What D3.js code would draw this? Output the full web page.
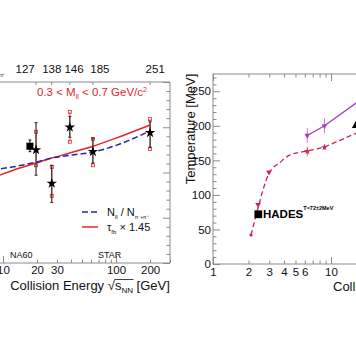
<!DOCTYPE html>
<html><head><meta charset="utf-8">
<script src="https://cdn.jsdelivr.net/npm/d3@7"></script>
<style>body{margin:0;background:#fff} svg{display:block} text{font-family:"Liberation Sans",Arial,Helvetica,sans-serif}</style>
</head><body><svg id="c" width="356" height="364"></svg>
<script>
// ---------- Left panel data ----------
const starEnergy   = [19.6, 27, 39, 62.4, 200];
const starValue    = [12.5, 8.8, 15.0, 12.3, 14.4];
const starStatLo   = [9.7, 6.7, 13.9, 11.05, 12.8];
const starStatHi   = [15.5, 10.8, 16.2, 13.8, 15.6];
const starSysLo    = [10.8, 7.4, 13.4, 10.8, 12.6];
const starSysHi    = [14.5, 10.6, 16.7, 13.7, 15.9];
const na60Energy   = [17.3];
const na60Value    = [12.9];
const na60StatLo   = [12.3];
const na60StatHi   = [13.6];
const lineEnergy   = [8, 12, 19.6, 27, 39, 62.4, 100, 200];
const tauLine      = [9.4, 10.2, 11.05, 11.6, 12.15, 12.9, 13.8, 15.25];
const yieldLine    = [10.3, 10.6, 11.15, 11.6, 11.9, 12.25, 13.0, 14.6];
const leftXTicks   = [10,20,30,40,50,60,70,80,90,100,200,300];
const leftXLabels  = [10,20,30,100,200];
const leftXMajor   = [10,100];
const topLabels    = ["127","138","146","185","251"];
const topLabelPos  = [15.7, 27, 42.5, 72, 222];
const topTickPos   = [19.6, 27, 39, 62.4, 200];

// ---------- Right panel data ----------
const purpleEnergy = [6.3, 8.8, 17.3];
const purpleT      = [186, 200, 236];
const purpleErr    = [11, 11, null];
const redFitEnergy = [2.1, 2.41, 2.65, 2.98, 3.7, 4.49, 6.02, 8.55, 11.9, 16.3, 25];
const redFitT      = [42, 81, 107, 131, 147, 158, 163, 169, 179, 189, 200];
const redPtEnergy  = [6.3, 8.8];
const redPtT       = [163, 169];
const redPtErr     = [7, 4];
const arrowEnergy  = [2.41, 2.98];
const arrowT       = [86, 133];
const endEnergy    = [2.1];
const endT         = [42];
const hadesEnergy  = [2.42];
const hadesT       = [72];
const blackEnergy  = [16.5];
const blackT       = [201];
const rightYTicks  = [0,50,100,150,200,250];
const rightXTicks  = [1,2,3,4,5,6,7,8,9,10,20,30,40,50];
const rightXLabels = [1,2,3,4,5,6,10];
const rightXMajor  = [1,10];

const svg = d3.select("#c");
const gray = "#8a8a8a";
const red = "#e3262b", blue = "#222a9c";

// ====== LEFT PANEL ======
const xL = d3.scaleLog().domain([10,300]).range([3,170]);
const yL = d3.scaleLinear().domain([0,20]).range([263,82]);

svg.append("clipPath").attr("id","clipL").append("rect").attr("x",-50).attr("y",82).attr("width",220).attr("height",181);

// frame
svg.append("line").attr("x1",0).attr("x2",170).attr("y1",82).attr("y2",82).attr("stroke",gray);
svg.append("line").attr("x1",170).attr("x2",170).attr("y1",82).attr("y2",263).attr("stroke",gray);
svg.append("line").attr("x1",0).attr("x2",170).attr("y1",263).attr("y2",263).attr("stroke",gray);

const gxb = svg.append("g").attr("transform","translate(0,263)")
  .call(d3.axisBottom(xL).tickValues(leftXTicks).tickFormat(d=>leftXLabels.includes(d)?String(d):"")
  .tickSizeInner(-3.5).tickSizeOuter(0).tickPadding(3));
gxb.select(".domain").remove();
gxb.selectAll(".tick line").attr("stroke",gray).attr("y2",d=>leftXMajor.includes(d)?-7:-3.5);
gxb.selectAll("text").attr("font-size",11.5).attr("fill","#111").attr("font-family",null);

const gyr = svg.append("g").attr("transform","translate(170,0)")
  .call(d3.axisRight(yL).tickValues(d3.range(0,21,1)).tickFormat("").tickSizeInner(-3.5).tickSizeOuter(0));
gyr.select(".domain").remove();
gyr.selectAll(".tick line").attr("stroke",gray).attr("x2",d=>d%5===0?-7:-3.5);

// top ticks & labels
svg.append("g").selectAll("line").data(topTickPos).join("line")
  .attr("x1",d=>xL(d)).attr("x2",d=>xL(d)).attr("y1",82).attr("y2",85).attr("stroke",gray);
svg.append("g").selectAll("text").data(topLabels).join("text")
  .attr("x",(d,i)=>xL(topLabelPos[i])).attr("y",73).attr("text-anchor","middle")
  .attr("font-size",11.5).attr("fill","#111").text(d=>d);
svg.append("text").attr("x",0).attr("y",77).attr("font-size",5).attr("fill","#333").text("π⁺");

const gL = svg.append("g").attr("clip-path","url(#clipL)");
// lines
gL.append("path").datum(lineEnergy.map((e,i)=>[e,tauLine[i]]))
  .attr("d",d3.line().x(d=>xL(d[0])).y(d=>yL(d[1])).curve(d3.curveMonotoneX))
  .attr("fill","none").attr("stroke",red).attr("stroke-width",1.5);
gL.append("path").datum(lineEnergy.map((e,i)=>[e,yieldLine[i]]))
  .attr("d",d3.line().x(d=>xL(d[0])).y(d=>yL(d[1])).curve(d3.curveMonotoneX))
  .attr("fill","none").attr("stroke",blue).attr("stroke-width",1.5).attr("stroke-dasharray","6,3");

// systematic (red)
starEnergy.forEach((e,i)=>{
  const x=xL(e);
  gL.append("line").attr("x1",x).attr("x2",x).attr("y1",yL(starSysLo[i])).attr("y2",yL(starSysHi[i])).attr("stroke","#e86a6a").attr("stroke-width",1);
  [starSysLo[i],starSysHi[i]].forEach(v=>{
    gL.append("rect").attr("x",x-1.5).attr("y",yL(v)-1.5).attr("width",3).attr("height",3)
      .attr("fill","none").attr("stroke",red).attr("stroke-width",0.8);
  });
});
// statistical (black)
function statBar(e,lo,hi){
  const x=xL(e);
  gL.append("line").attr("x1",x).attr("x2",x).attr("y1",yL(lo)).attr("y2",yL(hi)).attr("stroke","#222").attr("stroke-width",1.1);
  [lo,hi].forEach(v=>gL.append("line").attr("x1",x-1.5).attr("x2",x+1.5).attr("y1",yL(v)).attr("y2",yL(v)).attr("stroke","#222"));
}
starEnergy.forEach((e,i)=>statBar(e,starStatLo[i],starStatHi[i]));
na60Energy.forEach((e,i)=>statBar(e,na60StatLo[i],na60StatHi[i]));
gL.selectAll(".star").data(starEnergy).join("path").attr("class","star")
  .attr("transform",(d,i)=>`translate(${xL(d)},${yL(starValue[i])})`)
  .attr("d",d3.symbol(d3.symbolStar,34)).attr("fill","#000");
gL.selectAll(".sq").data(na60Energy).join("path").attr("class","sq")
  .attr("transform",(d,i)=>`translate(${xL(d)},${yL(na60Value[i])})`)
  .attr("d",d3.symbol(d3.symbolSquare,50)).attr("fill","#000");

// red annotation
const ann = svg.append("text").attr("x",37).attr("y",96).attr("font-size",11.5).attr("fill",red);
ann.append("tspan").text("0.3 < M");
ann.append("tspan").attr("font-size",7).attr("dy",2.5).text("ll");
ann.append("tspan").attr("dy",-2.5).text(" < 0.7 GeV/c");
ann.append("tspan").attr("font-size",7).attr("dy",-4.5).text("2");

// legend
svg.append("line").attr("x1",82).attr("x2",98).attr("y1",212).attr("y2",212).attr("stroke",blue).attr("stroke-width",1.5).attr("stroke-dasharray","6,3");
svg.append("line").attr("x1",82).attr("x2",98).attr("y1",227).attr("y2",227).attr("stroke",red).attr("stroke-width",1.5);
const l1 = svg.append("text").attr("x",107).attr("y",216).attr("font-size",11).attr("fill","#111");
l1.append("tspan").text("N");
l1.append("tspan").attr("font-size",6).attr("dy",2.5).text("ll");
l1.append("tspan").attr("dy",-2.5).text(" / N");
l1.append("tspan").attr("font-size",5).attr("dy",2.5).text("π⁻+π⁺");
const l2 = svg.append("text").attr("x",107).attr("y",231).attr("font-size",11).attr("fill","#111");
l2.append("tspan").text("τ");
l2.append("tspan").attr("font-size",6).attr("dy",2.5).text("fb");
l2.append("tspan").attr("dy",-2.5).text(" × 1.45");

svg.append("text").attr("x",10).attr("y",258).attr("font-size",9).attr("fill","#111").text("NA60");
svg.append("text").attr("x",98).attr("y",258).attr("font-size",9).attr("fill","#111").text("STAR");

function xTitle(x,y,anchor){
  const t = svg.append("text").attr("x",x).attr("y",y).attr("font-size",13).attr("fill","#111").attr("text-anchor",anchor);
  t.append("tspan").text("Collision Energy √");
  t.append("tspan").text("s");
  t.append("tspan").attr("font-size",8).attr("dy",3).text("NN");
  t.append("tspan").attr("dy",-3).text(" [GeV]");
  const n=t.node();
  const x1=n.getStartPositionOfChar(18).x, x2=n.getEndPositionOfChar(20).x;
  svg.append("line").attr("x1",x1-0.5).attr("x2",x2+0.5).attr("y1",y-10.5).attr("y2",y-10.5).attr("stroke","#111").attr("stroke-width",0.8);
}
xTitle(90,290,"middle");

// ====== RIGHT PANEL ======
const xR = d3.scaleLog().domain([1,300]).range([213,213+118*Math.log10(300)]);
const yR = d3.scaleLinear().domain([0,275]).range([264,74]);
svg.append("clipPath").attr("id","clipR").append("rect").attr("x",213).attr("y",74).attr("width",300).attr("height",190);

svg.append("line").attr("x1",213).attr("x2",400).attr("y1",74).attr("y2",74).attr("stroke",gray);
svg.append("line").attr("x1",213).attr("x2",213).attr("y1",74).attr("y2",264).attr("stroke",gray);
svg.append("line").attr("x1",213).attr("x2",400).attr("y1",264).attr("y2",264).attr("stroke",gray);

const gyl = svg.append("g").attr("transform","translate(213,0)")
  .call(d3.axisLeft(yR).tickValues(d3.range(0,271,10)).tickFormat(d=>rightYTicks.includes(d)?String(d):"")
  .tickSizeInner(-3.5).tickSizeOuter(0).tickPadding(2));
gyl.select(".domain").remove();
gyl.selectAll(".tick line").attr("stroke",gray).attr("x2",d=>d%50===0?7:3.5);
gyl.selectAll("text").attr("font-size",11.5).attr("fill","#111").attr("font-family",null);

const gxr = svg.append("g").attr("transform","translate(0,264)")
  .call(d3.axisBottom(xR).tickValues(rightXTicks).tickFormat(d=>rightXLabels.includes(d)?String(d):"")
  .tickSizeInner(-3.5).tickSizeOuter(0).tickPadding(3.5));
gxr.select(".domain").remove();
gxr.selectAll(".tick line").attr("stroke",gray).attr("y2",d=>rightXMajor.includes(d)?-7:-3.5);
gxr.selectAll("text").attr("font-size",11.5).attr("fill","#111").attr("font-family",null);

const gxt = svg.append("g").attr("transform","translate(0,74)")
  .call(d3.axisTop(xR).tickValues(rightXTicks).tickFormat("").tickSizeInner(-3.5).tickSizeOuter(0));
gxt.select(".domain").remove();
gxt.selectAll(".tick line").attr("stroke",gray).attr("y2",d=>rightXMajor.includes(d)?7:3.5);

svg.append("text").attr("transform","translate(195,129) rotate(-90)").attr("text-anchor","middle")
  .attr("font-size",13).attr("fill","#111").text("Temperature [MeV]");
xTitle(333,291,"start");

const gR = svg.append("g").attr("clip-path","url(#clipR)");
const purple = "#a53bc4", crim = "#cf1f4c";
gR.append("path").datum(redFitEnergy.map((e,i)=>[e,redFitT[i]]))
  .attr("d",d3.line().x(d=>xR(d[0])).y(d=>yR(d[1])).curve(d3.curveMonotoneX))
  .attr("fill","none").attr("stroke",crim).attr("stroke-width",1.3).attr("stroke-dasharray","5,3");
gR.append("path").datum(purpleEnergy.map((e,i)=>[e,purpleT[i]]))
  .attr("d",d3.line().x(d=>xR(d[0])).y(d=>yR(d[1])))
  .attr("fill","none").attr("stroke",purple).attr("stroke-width",1.3);
purpleEnergy.forEach((e,i)=>{
  if(purpleErr[i]==null) return;
  gR.append("line").attr("x1",xR(e)).attr("x2",xR(e)).attr("y1",yR(purpleT[i]-purpleErr[i])).attr("y2",yR(purpleT[i]+purpleErr[i]))
    .attr("stroke","#c77ad8").attr("stroke-width",1);
  gR.append("path").attr("transform",`translate(${xR(e)},${yR(purpleT[i])})`)
    .attr("d",d3.symbol(d3.symbolTriangle,14)).attr("fill",purple).attr("transform",`translate(${xR(e)},${yR(purpleT[i])}) rotate(180)`);
});
redPtEnergy.forEach((e,i)=>{
  gR.append("line").attr("x1",xR(e)).attr("x2",xR(e)).attr("y1",yR(redPtT[i]-redPtErr[i])).attr("y2",yR(redPtT[i]+redPtErr[i]))
    .attr("stroke","#e0708a").attr("stroke-width",1);
  gR.append("path").attr("transform",`translate(${xR(e)},${yR(redPtT[i])})`)
    .attr("d",d3.symbol(d3.symbolStar,14)).attr("fill",crim);
});
arrowEnergy.forEach((e,i)=>{
  gR.append("path").attr("transform",`translate(${xR(e)},${yR(arrowT[i])}) rotate(180)`)
    .attr("d",d3.symbol(d3.symbolTriangle,14)).attr("fill",crim);
});
endEnergy.forEach((e,i)=>{
  gR.append("circle").attr("cx",xR(e)).attr("cy",yR(endT[i])).attr("r",1.6).attr("fill",crim);
});
hadesEnergy.forEach((e,i)=>{
  gR.append("path").attr("transform",`translate(${xR(e)},${yR(hadesT[i])})`)
    .attr("d",d3.symbol(d3.symbolSquare,60)).attr("fill","#000");
});
blackEnergy.forEach((e,i)=>{
  gR.append("path").attr("transform",`translate(${xR(e)},${yR(blackT[i])})`)
    .attr("d",d3.symbol(d3.symbolTriangle,40)).attr("fill","#000");
});
const ht = svg.append("text").attr("x",263).attr("y",218).attr("font-size",11.5).attr("font-weight","bold").attr("fill","#000");
ht.append("tspan").text("HADES");
ht.append("tspan").attr("font-size",5.5).attr("dy",-8).text("T=72±2MeV");
</script></body></html>
